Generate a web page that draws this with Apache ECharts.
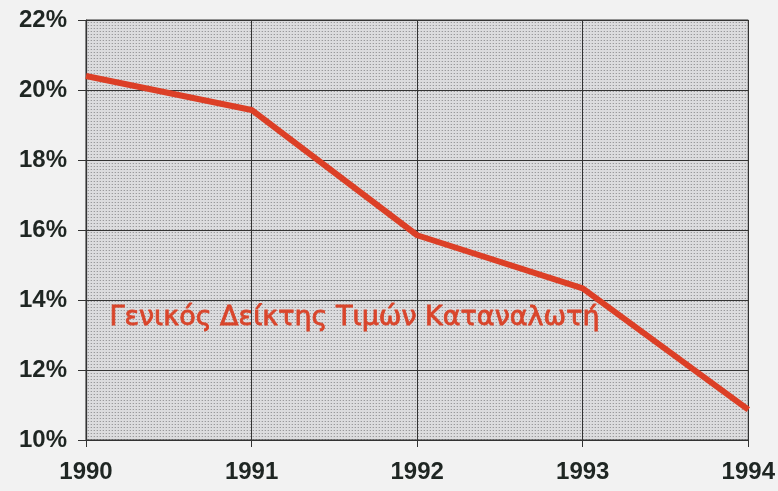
<!DOCTYPE html>
<html><head><meta charset="utf-8">
<script src="https://cdn.jsdelivr.net/npm/echarts@6/dist/echarts.min.js"></script>
<style>html,body{margin:0;padding:0;background:#f2f2f2;}#c{width:778px;height:491px;}</style>
</head><body><div id="c"></div>
<script>
const years = ['1990','1991','1992','1993','1994'];
const cpi = [20.4, 19.43, 15.85, 14.33, 10.87];
const yTicks = [10, 12, 14, 16, 18, 20, 22];
const seriesName = 'Γενικός Δείκτης Τιμών Καταναλωτή';

const pc = document.createElement('canvas');
pc.width = 3; pc.height = 3;
const g = pc.getContext('2d');
g.fillStyle = '#dcdcde'; g.fillRect(0,0,3,3);
g.fillStyle = '#9a9a9c'; g.fillRect(1,1,1,1);
g.fillStyle = '#c6c6c8'; g.fillRect(0,1,1,1);

const chart = echarts.init(document.getElementById('c'));
chart.setOption({
  backgroundColor: '#f2f2f2',
  animation: false,
  grid: {left: 86, right: 29, top: 20, bottom: 51, show: true,
         backgroundColor: {image: pc, repeat: 'repeat'}, borderColor: '#333', borderWidth: 1},
  xAxis: {type: 'category', data: years, boundaryGap: false,
    axisLine: {lineStyle: {color: '#333', width: 1.2}},
    axisTick: {show: true, length: 7, lineStyle: {color: '#333'}},
    axisLabel: {fontFamily: 'Liberation Sans, Arial', fontSize: 24, fontWeight: 'bold', color: '#1f2623', margin: 20},
    splitLine: {show: true, lineStyle: {color: '#333', width: 1}}},
  yAxis: {type: 'value', min: 10, max: 22, interval: 2,
    axisLine: {show: true, lineStyle: {color: '#333', width: 1.2}},
    axisTick: {show: true, length: 8, lineStyle: {color: '#333'}},
    axisLabel: {fontFamily: 'Liberation Sans, Arial', fontSize: 24, fontWeight: 'bold', color: '#1f2623', margin: 19,
      formatter: v => yTicks.includes(v) ? v + '%' : ''},
    splitLine: {show: true, lineStyle: {color: '#333', width: 1.2}}},
  series: [{type: 'line', name: seriesName, data: cpi, symbol: 'none',
    lineStyle: {color: '#dc3f26', width: 6}}],
  graphic: [{type: 'text', left: 109, top: 304,
    style: {text: seriesName, fill: '#d9452b', stroke: '#d9452b', lineWidth: 0.8,
            fontFamily: 'DejaVu Sans', fontSize: 27}}]
});
</script></body></html>
